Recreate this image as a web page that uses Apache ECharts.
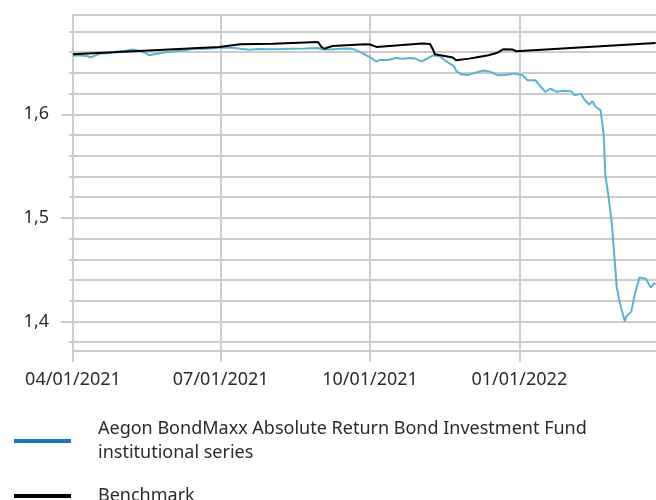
<!DOCTYPE html>
<html><head><meta charset="utf-8">
<script src="https://cdn.jsdelivr.net/npm/echarts@6/dist/echarts.min.js"></script>
<style>html,body{margin:0;padding:0;background:#fff}#c{width:656px;height:500px}</style>
</head><body><div id="c"></div>
<script>
const seriesNames = ['Aegon BondMaxx Absolute Return Bond Investment Fund\ninstitutional series', 'Benchmark'];
const fundDates = ['2021-04-01','2021-04-05','2021-04-10','2021-04-12','2021-04-15','2021-04-18','2021-04-23','2021-04-27','2021-05-03','2021-05-08','2021-05-12','2021-05-16','2021-05-18','2021-05-23','2021-05-28','2021-06-03','2021-06-09','2021-06-14','2021-06-20','2021-06-26','2021-07-01','2021-07-08','2021-07-13','2021-07-19','2021-07-24','2021-07-30','2021-08-07','2021-08-14','2021-08-22','2021-08-30','2021-09-01','2021-09-06','2021-09-13','2021-09-19','2021-09-22','2021-09-26','2021-10-01','2021-10-05','2021-10-07','2021-10-12','2021-10-17','2021-10-21','2021-10-26','2021-10-29','2021-11-02','2021-11-06','2021-11-09','2021-11-13','2021-11-17','2021-11-20','2021-11-22','2021-11-23','2021-11-26','2021-11-30','2021-12-05','2021-12-10','2021-12-14','2021-12-19','2021-12-24','2021-12-29','2022-01-03','2022-01-06','2022-01-11','2022-01-14','2022-01-17','2022-01-20','2022-01-24','2022-01-28','2022-02-02','2022-02-04','2022-02-08','2022-02-10','2022-02-13','2022-02-15','2022-02-17','2022-02-18','2022-02-20','2022-02-21','2022-02-22','2022-02-23','2022-02-25','2022-02-27','2022-03-02','2022-03-04','2022-03-07','2022-03-08','2022-03-11','2022-03-13','2022-03-16','2022-03-20','2022-03-23','2022-03-25','2022-03-26'];
const fundValues = [1.6564,1.6569,1.6560,1.6550,1.6569,1.6586,1.6589,1.6603,1.6613,1.6624,1.6613,1.6589,1.6569,1.6584,1.6598,1.6608,1.6617,1.6632,1.6632,1.6634,1.6644,1.6642,1.6632,1.6622,1.6629,1.6627,1.6629,1.6632,1.6634,1.6639,1.6627,1.6624,1.6632,1.6634,1.6622,1.6593,1.6550,1.6507,1.6526,1.6524,1.6543,1.6535,1.6542,1.6535,1.6511,1.6545,1.6569,1.6560,1.6511,1.6482,1.6458,1.6420,1.6386,1.6378,1.6400,1.6422,1.6410,1.6376,1.6381,1.6393,1.6376,1.6328,1.6328,1.6270,1.6217,1.6246,1.6217,1.6227,1.6222,1.6183,1.6198,1.6145,1.6094,1.6127,1.6072,1.6053,1.6040,1.5923,1.5800,1.5412,1.5202,1.4945,1.4334,1.4174,1.4003,1.4051,1.4095,1.4254,1.4424,1.4413,1.4328,1.4367,1.4360];
const benchDates = ['2021-04-01','2021-06-30','2021-07-01','2021-07-13','2021-08-02','2021-08-30','2021-08-31','2021-09-01','2021-09-03','2021-09-05','2021-09-08','2021-09-28','2021-10-01','2021-10-05','2021-11-02','2021-11-07','2021-11-09','2021-11-10','2021-11-21','2021-11-23','2021-12-01','2021-12-05','2021-12-13','2021-12-18','2021-12-22','2021-12-28','2021-12-30','2022-03-26'];
const benchValues = [1.6579,1.6649,1.6659,1.6675,1.6680,1.6698,1.6695,1.6650,1.6632,1.6644,1.6659,1.6675,1.6673,1.6650,1.6682,1.6678,1.6617,1.6579,1.6547,1.6521,1.6537,1.6547,1.6569,1.6591,1.6627,1.6624,1.6608,1.6688];
const xTickDates = ['2021-04-01','2021-07-01','2021-10-01','2022-01-01'];
const xRange = ['2021-04-01 00:00', '2022-03-26 05:00'];
const yMinorTicks = [1.38,1.40,1.42,1.44,1.46,1.48,1.50,1.52,1.54,1.56,1.58,1.60,1.62,1.64,1.66,1.68];
const yMajorTicks = [1.4,1.5,1.6];
const yRange = [1.3715, 1.6958];

const GRAY = '#cccccc';
const TXT = '#2b2b2b';
const FONT = 'Noto Sans';
const toTs = s => {
  const [dp, tp] = s.split(' ');
  const [y, m, d] = dp.split('-').map(Number);
  const [hh, mm] = (tp || '00:00').split(':').map(Number);
  return new Date(y, m - 1, d, hh, mm).getTime();
};
const pad = n => (n < 10 ? '0' : '') + n;
const fmtDate = v => { const d = new Date(v); return pad(d.getMonth() + 1) + '/' + pad(d.getDate()) + '/' + d.getFullYear(); };
const xTicks = xTickDates.map(toTs);

const chart = echarts.init(document.getElementById('c'), null, {renderer: 'canvas'});
chart.setOption({
  animation: false,
  backgroundColor: '#fff',
  textStyle: {fontFamily: FONT},
  grid: {left: 73, right: 0, top: 15, bottom: 149, containLabel: false, outerBoundsMode: 'none'},
  legend: {
    orient: 'vertical', left: 14, top: 417, height: 200, padding: 0,
    itemWidth: 57, itemHeight: 4, itemGap: 19,
    icon: 'rect', selectedMode: false,
    textStyle: {fontFamily: FONT, fontSize: 18, color: TXT, lineHeight: 24, padding: [0, 0, 0, 22]},
    data: [
      {name: seriesNames[0], itemStyle: {color: '#1f74bd'}},
      {name: seriesNames[1], itemStyle: {color: '#000000'}}
    ]
  },
  xAxis: [
    {
      type: 'value', position: 'bottom', min: toTs(xRange[0]), max: toTs(xRange[1]),
      axisLine: {show: true, lineStyle: {color: GRAY, width: 2}},
      axisTick: {show: true, customValues: xTicks, length: 11, lineStyle: {color: GRAY, width: 2}},
      axisLabel: {show: true, customValues: xTicks, formatter: fmtDate, margin: 20,
        fontFamily: FONT, fontSize: 18, color: TXT, showMinLabel: true, showMaxLabel: true},
      splitLine: {show: true, lineStyle: {color: GRAY, width: 2}}
    },
    {
      type: 'value', position: 'top', min: toTs(xRange[0]), max: toTs(xRange[1]),
      axisLine: {show: true, lineStyle: {color: GRAY, width: 2}},
      axisTick: {show: false}, axisLabel: {show: false}, splitLine: {show: false}
    }
  ],
  yAxis: [
    {
      type: 'value', position: 'left', min: yRange[0], max: yRange[1],
      axisLine: {show: true, lineStyle: {color: GRAY, width: 2}},
      axisTick: {show: true, customValues: yMinorTicks, length: 4, lineStyle: {color: GRAY, width: 2}},
      axisLabel: {show: false},
      splitLine: {show: true, lineStyle: {color: GRAY, width: 2}}
    },
    {
      type: 'value', position: 'left', min: yRange[0], max: yRange[1],
      axisLine: {show: false},
      axisTick: {show: true, customValues: yMajorTicks, length: 12, lineStyle: {color: GRAY, width: 2}},
      axisLabel: {show: true, customValues: yMajorTicks, margin: 24, fontFamily: FONT, fontSize: 18, color: TXT,
        formatter: v => v.toFixed(1).replace('.', ',')},
      splitLine: {show: false}
    }
  ],
  series: [
    {
      name: seriesNames[0], type: 'line', xAxisIndex: 0, yAxisIndex: 0, showSymbol: false, symbol: 'none',
      lineStyle: {color: '#5ab3cf', width: 2}, itemStyle: {color: '#5ab3cf'},
      data: fundDates.map((d, i) => [toTs(d), fundValues[i]])
    },
    {
      name: seriesNames[1], type: 'line', xAxisIndex: 0, yAxisIndex: 0, showSymbol: false, symbol: 'none',
      lineStyle: {color: '#000000', width: 2}, itemStyle: {color: '#000000'},
      data: benchDates.map((d, i) => [toTs(d), benchValues[i]])
    }
  ]
});
</script></body></html>
